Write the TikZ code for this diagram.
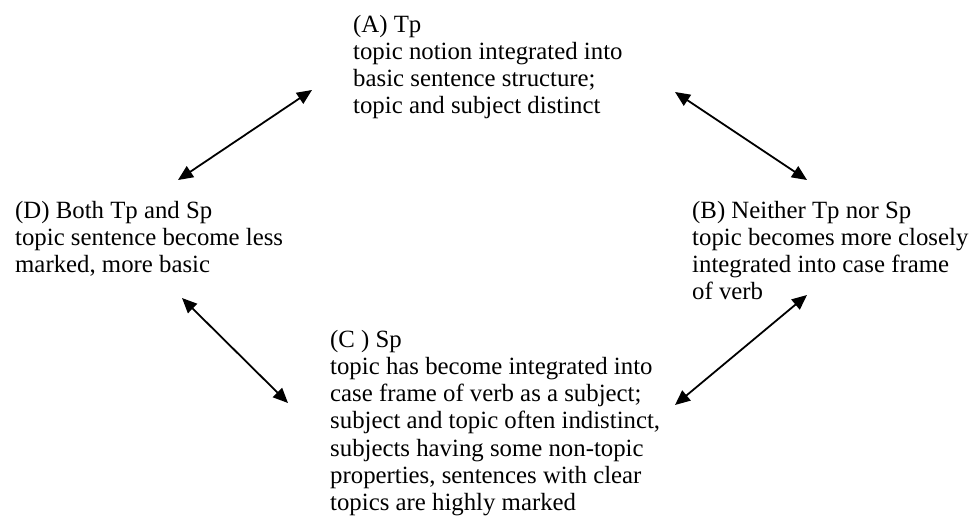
\documentclass[tikz,border=0pt]{standalone}
\usepackage{fontspec}
\setmainfont{Liberation Serif}
\usetikzlibrary{arrows.meta}
\newcommand{\txtblock}[1]{\begin{tabular}[t]{@{}l@{}}#1\end{tabular}}
\begin{document}
\begin{tikzpicture}[x=1pt,y=-1pt,
  txt/.style={anchor=base west,inner sep=0pt,font=\fontsize{24.8}{27.3}\selectfont},
  dbl/.style={line width=1.8pt,{Triangle[length=15pt,width=13pt]}-{Triangle[length=15pt,width=13pt]}}]
\useasboundingbox (0,0) rectangle (972,525);
\node[txt] (A) at (353,32) {\txtblock{(A) Tp\\topic notion integrated into\\basic sentence structure;\\topic and subject distinct}};
\node[txt] (D) at (15,218) {\txtblock{(D) Both Tp and Sp\\topic sentence become less\\marked, more basic}};
\node[txt] (B) at (692,218) {\txtblock{(B) Neither Tp nor Sp\\topic becomes more closely\\integrated into case frame\\of verb}};
\node[txt] (C) at (330,347) {\txtblock{(C ) Sp\\topic has become integrated into\\case frame of verb as a subject;\\subject and topic often indistinct,\\subjects having some non-topic\\properties, sentences with clear\\topics are highly marked}};
\coordinate (ad1) at (178,180);
\coordinate (ad2) at (312,90);
\coordinate (ab1) at (675,92);
\coordinate (ab2) at (807,180);
\coordinate (dc1) at (182,298);
\coordinate (dc2) at (288,403);
\coordinate (cb1) at (675,405);
\coordinate (cb2) at (807,295);
\draw[dbl] (ad1) -- (ad2);
\draw[dbl] (ab1) -- (ab2);
\draw[dbl] (dc1) -- (dc2);
\draw[dbl] (cb1) -- (cb2);
\end{tikzpicture}
\end{document}
